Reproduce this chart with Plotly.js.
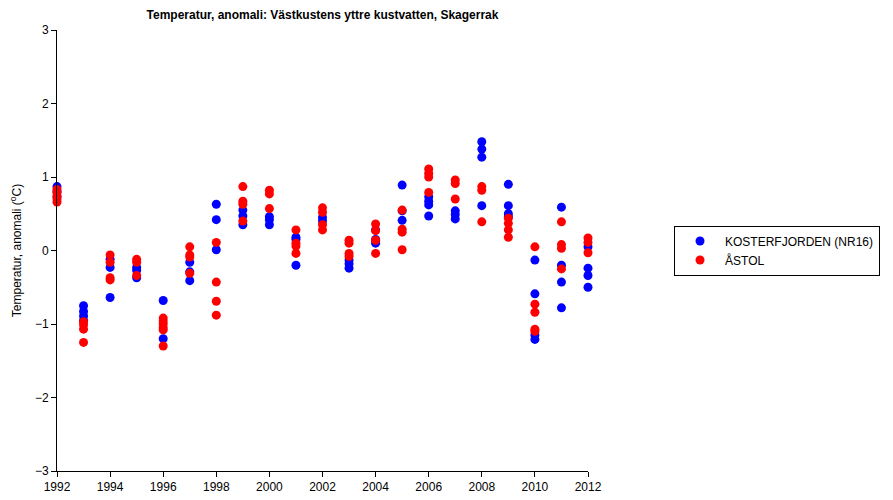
<!DOCTYPE html>
<html>
<head>
<meta charset="utf-8">
<script src="https://cdn.plot.ly/plotly-3.0.1.min.js"></script>
<style>html,body{margin:0;padding:0;background:#fff;}</style>
</head>
<body>
<div id="chart" style="width:893px;height:500px;"></div>
<script>
const years = [1992,1993,1994,1995,1996,1997,1998,1999,2000,2001,2002,2003,2004,2005,2006,2007,2008,2009,2010,2011,2012];

const kosterValues = [
  [0.87, 0.80, 0.73],
  [-0.75, -0.83, -0.89, -0.95],
  [-0.12, -0.23, -0.64],
  [-0.23, -0.27, -0.37],
  [-0.68, -1.20],
  [-0.16, -0.29, -0.41],
  [0.63, 0.42, 0.01],
  [0.55, 0.47, 0.35],
  [0.46, 0.42, 0.35],
  [0.18, 0.15, -0.20],
  [0.45, 0.40],
  [-0.13, -0.18, -0.24],
  [0.28, 0.15, 0.10],
  [0.89, 0.54, 0.41],
  [0.73, 0.67, 0.62, 0.47],
  [0.54, 0.49, 0.43],
  [1.48, 1.38, 1.27, 0.61],
  [0.90, 0.61, 0.50, 0.46],
  [-0.13, -0.59, -1.15, -1.21],
  [0.59, -0.20, -0.43, -0.78],
  [0.05, -0.24, -0.34, -0.50]
];

const astolValues = [
  [0.83, 0.79, 0.74, 0.70, 0.66],
  [-0.97, -1.01, -1.07, -1.25],
  [-0.06, -0.16, -0.37, -0.40],
  [-0.12, -0.16, -0.34],
  [-0.92, -0.96, -1.00, -1.05, -1.08, -1.30],
  [0.05, -0.06, -0.09, -0.31],
  [0.11, -0.43, -0.69, -0.88],
  [0.87, 0.67, 0.63, 0.40],
  [0.82, 0.77, 0.57],
  [0.28, 0.10, 0.06, -0.04],
  [0.58, 0.52, 0.35, 0.28],
  [0.14, 0.10, -0.04, -0.08],
  [0.36, 0.27, 0.14, -0.04],
  [0.55, 0.29, 0.25, 0.01],
  [1.11, 1.05, 1.00, 0.79],
  [0.96, 0.91, 0.70],
  [0.87, 0.82, 0.39],
  [0.44, 0.37, 0.28, 0.18],
  [0.05, -0.73, -0.84, -1.07, -1.10],
  [0.39, 0.08, 0.03, -0.25],
  [0.17, 0.11, -0.03]
];

const seriesNames = ["KOSTERFJORDEN (NR16)", "ÅSTOL"];
const seriesColors = ["#0000ff", "#ff0000"];
const yTicks = [-3, -2, -1, 0, 1, 2, 3];
const xTicks = [1992,1994,1996,1998,2000,2002,2004,2006,2008,2010,2012];

function flatten(groups) {
  const xs = [], ys = [];
  groups.forEach((vals, i) => vals.forEach(v => { xs.push(years[i]); ys.push(v); }));
  return {xs, ys};
}

const k = flatten(kosterValues);
const a = flatten(astolValues);

const traces = [k, a].map((d, i) => ({
  x: d.xs, y: d.ys,
  type: 'scatter', mode: 'markers',
  name: seriesNames[i],
  cliponaxis: false,
  marker: {color: seriesColors[i], size: 9, line: {width: 0}}
}));

const font = {family: 'Liberation Sans, Arial, Helvetica, sans-serif', size: 12, color: '#000'};

const layout = {
  width: 893, height: 500,
  margin: {l: 57, r: 305, t: 30, b: 29},
  paper_bgcolor: '#fff', plot_bgcolor: '#fff',
  font: font,
  showlegend: true,
  title: {
    text: '<b>Temperatur, anomali: Västkustens yttre kustvatten, Skagerrak</b>',
    font: {family: font.family, size: 12, color: '#000'},
    x: 0.5, xref: 'paper', xanchor: 'center',
    y: 1 - 15/500, yref: 'container', yanchor: 'middle'
  },
  xaxis: {
    range: [1992, 2012],
    tickvals: xTicks, ticktext: xTicks.map(String),
    showline: true, linecolor: '#000', linewidth: 1,
    ticks: 'outside', ticklen: 5, tickcolor: '#000', tickwidth: 1,
    showgrid: false, zeroline: false, fixedrange: true,
    tickfont: font
  },
  yaxis: {
    range: [-3, 3],
    tickvals: yTicks, ticktext: yTicks.map(v => v < 0 ? '\u2212' + Math.abs(v) : String(v)),
    showline: true, linecolor: '#000', linewidth: 1,
    ticks: 'outside', ticklen: 5, tickcolor: '#000', tickwidth: 1,
    showgrid: false, zeroline: false, fixedrange: true,
    tickfont: font,
    title: {text: 'Temperatur, anomali (<sup>o</sup>C)', font: font, standoff: 10}
  },
  legend: {
    x: 1.162, xanchor: 'left', xref: 'paper',
    y: 0.5, yanchor: 'middle',
    bordercolor: '#000', borderwidth: 1,
    bgcolor: '#fff',
    font: font,
    itemwidth: 40,
    tracegroupgap: 0
  }
};

Plotly.newPlot('chart', traces, layout, {displayModeBar: false, staticPlot: true});
</script>
</body>
</html>
